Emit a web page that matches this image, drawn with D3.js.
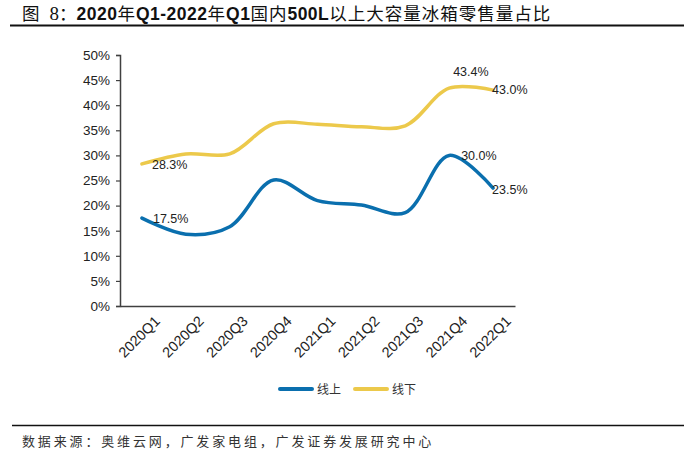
<!DOCTYPE html>
<html lang="zh">
<head>
  <meta charset="UTF-8">
  <title>大容量冰箱零售量占比</title>
  <style>
    body { margin: 0; padding: 0; background: #fff; }
    svg text { font-family: "Liberation Sans", Arial, sans-serif; }
    .cjk { font-family: "Liberation Sans", "Noto Sans CJK SC", sans-serif; }
  </style>
</head>
<body>
  <svg id="chart" width="700" height="460"></svg>

  <script src="https://d3js.org/d3.v7.min.js"></script>
  <script>
    // 数据
    const quarters = ["2020Q1", "2020Q2", "2020Q3", "2020Q4", "2021Q1", "2021Q2", "2021Q3", "2021Q4", "2022Q1"];
    const online = [17.5, 14.3, 15.8, 25.1, 21.0, 20.1, 18.6, 30.0, 23.5];
    const offline = [28.3, 30.3, 30.3, 36.3, 36.2, 35.7, 35.9, 43.4, 43.0];
    const yTicks = [0, 5, 10, 15, 20, 25, 30, 35, 40, 45, 50];
    const seriesNames = ["线上", "线下"];
    const colors = ["#0a6fae", "#ecc94b"];

    const svg = d3.select("#chart");
    const margin = { top: 55, left: 120, right: 185, bottom: 154 };
    const width = 700 - margin.left - margin.right;
    const height = 460 - margin.top - margin.bottom;

    // 标题：中文常规，数字字母加粗
    const title = svg.append("text")
      .attr("class", "cjk")
      .attr("x", 22).attr("y", 20)
      .attr("font-size", 17.5)
      .attr("fill", "#111");
    title.append("tspan").text("图");
    title.append("tspan").attr("dx", 10).attr("font-family", "Liberation Serif, serif").attr("font-size", 19).text("8");
    title.append("tspan").attr("font-family", "Noto Sans CJK SC").text("：");
    const titleText = "2020年Q1-2022年Q1国内500L以上大容量冰箱零售量占比";
    titleText.match(/[\u4e00-\u9fff]+|[^\u4e00-\u9fff]+/g).forEach(part => {
      const isCjk = /[\u4e00-\u9fff]/.test(part);
      title.append("tspan")
        .attr("font-weight", isCjk ? "normal" : "bold")
        .attr("font-size", isCjk ? 17.5 : 17.5)
        .attr("letter-spacing", isCjk ? 1 : 0.5)
        .text(part);
    });
    svg.append("line")
      .attr("x1", 10).attr("x2", 684).attr("y1", 25.5).attr("y2", 25.5)
      .attr("stroke", "#111").attr("stroke-width", 2);

    const g = svg.append("g").attr("transform", `translate(${margin.left},${margin.top})`);

    const x = d3.scaleBand().domain(quarters).range([0, width]);
    const y = d3.scaleLinear().domain([0, 50]).range([height, 0]);
    const cx = d => x(d) + x.bandwidth() / 2;

    // y 轴
    const yAxis = g.append("g")
      .call(d3.axisLeft(y).tickValues(yTicks).tickSize(4).tickFormat(d => d + "%"));
    yAxis.select(".domain").attr("stroke", "#404040").attr("stroke-width", 1.5);
    yAxis.selectAll(".tick line").attr("stroke", "#404040").attr("stroke-width", 1.2);
    yAxis.selectAll(".tick text")
      .attr("font-size", 13.5).attr("fill", "#222").attr("x", -10)
      .style("font-family", "Liberation Sans, Arial, sans-serif");

    // x 轴
    const xAxis = g.append("g").attr("transform", `translate(0,${height})`)
      .call(d3.axisBottom(x).tickSize(0));
    xAxis.select(".domain").attr("stroke", "#404040").attr("stroke-width", 1.5);
    xAxis.selectAll(".tick text")
      .attr("font-size", 14.5).attr("fill", "#222")
      .style("font-family", "Liberation Sans, Arial, sans-serif")
      .attr("text-anchor", "end")
      .attr("y", 0).attr("dy", 0)
      .attr("transform", "translate(19,16) rotate(-45)");

    // 折线
    const line = d3.line()
      .x((d, i) => cx(quarters[i]))
      .y(d => y(d))
      .curve(d3.curveCatmullRom.alpha(0.5));

    [online, offline].forEach((s, k) => {
      g.append("path")
        .datum(s)
        .attr("fill", "none")
        .attr("stroke", colors[k])
        .attr("stroke-width", 3.5)
        .attr("stroke-linecap", "round")
        .attr("d", line);
    });

    // 数据标签
    const labels = [
      { s: online, i: 0, dx: 11, dy: 5 },
      { s: online, i: 7, dx: 12, dy: 5 },
      { s: online, i: 8, dx: -1, dy: 6 },
      { s: offline, i: 0, dx: 10, dy: 5 },
      { s: offline, i: 7, dx: 4, dy: -12 },
      { s: offline, i: 8, dx: -1, dy: 4 }
    ];
    labels.forEach(l => {
      g.append("text")
        .attr("x", cx(quarters[l.i]) + l.dx)
        .attr("y", y(l.s[l.i]) + l.dy)
        .attr("font-size", 12.5).attr("fill", "#222")
        .text(l.s[l.i].toFixed(1) + "%");
    });

    // 图例
    const legend = svg.append("g").attr("transform", "translate(280,389)");
    seriesNames.forEach((name, k) => {
      const lg = legend.append("g").attr("transform", `translate(${k * 75},0)`);
      lg.append("line").attr("x1", 0).attr("x2", 32).attr("y1", 0).attr("y2", 0)
        .attr("stroke", colors[k]).attr("stroke-width", 4).attr("stroke-linecap", "round");
      lg.append("text").attr("class", "cjk")
        .attr("x", 37).attr("y", 5)
        .attr("font-size", 12).attr("fill", "#333")
        .text(name);
    });

    // 资料来源
    svg.append("line")
      .attr("x1", 12).attr("x2", 684).attr("y1", 425.5).attr("y2", 425.5)
      .attr("stroke", "#111").attr("stroke-width", 1.5);
    svg.append("text")
      .attr("class", "cjk")
      .attr("x", 22).attr("y", 446)
      .attr("font-size", 13).attr("letter-spacing", 2.85).attr("fill", "#333")
      .text("数据来源：奥维云网，广发家电组，广发证券发展研究中心");
  </script>
</body>
</html>
